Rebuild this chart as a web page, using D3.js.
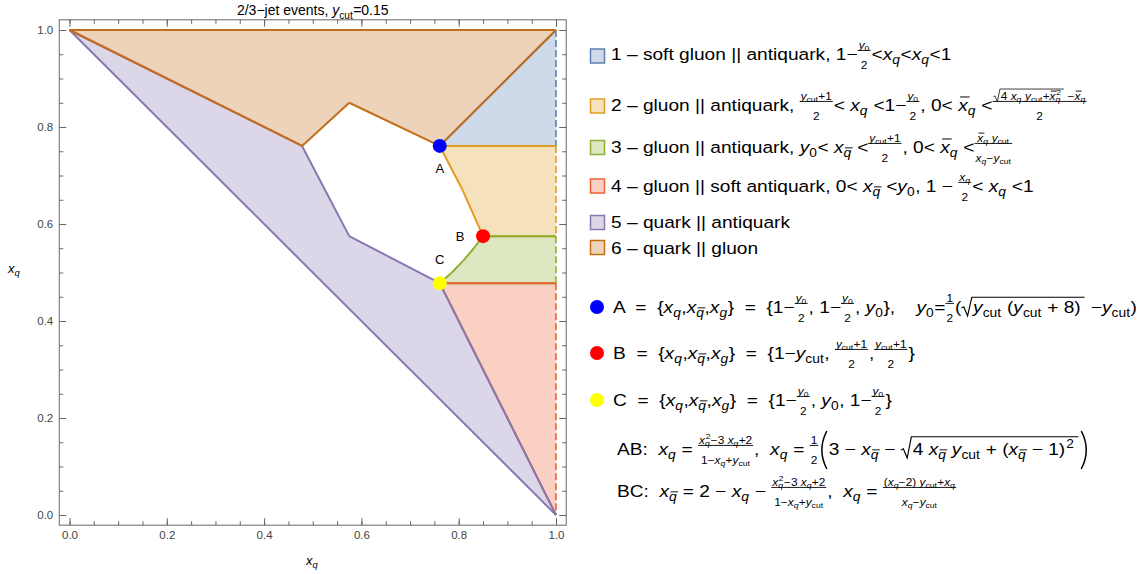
<!DOCTYPE html>
<html>
<head>
<meta charset="utf-8">
<script src="https://cdn.jsdelivr.net/npm/d3@7"></script>
<style>
  body { margin: 0; background: #fff; }
  svg text { font-family: "Liberation Sans", Arial, sans-serif; white-space: pre; }
</style>
</head>
<body>
<svg id="chart"></svg>
<script>

// ----------------------------- DATA -----------------------------//
const ycutValue = 0.15;
const regionIds = [1, 2, 3, 4, 5, 6];
const regionColors = ["#5e81b5", "#e19c24", "#8fb032", "#eb6235", "#8778b3", "#c56e1a"];

// region corners as [x_q, x_qbar]
const region1 = [[0.761, 0.761], [1, 1], [1, 0.761]];
const region2 = [[0.761, 0.761], [1, 0.761], [1, 0.575], [0.85, 0.575], [0.808, 0.67]];
const region3 = [[0.85, 0.575], [1, 0.575], [1, 0.478], [0.761, 0.478], [0.786, 0.5], [0.81, 0.525], [0.831, 0.55]];
const region4 = [[0.761, 0.478], [1, 0.478], [1, 0]];
const region5 = [[0, 1], [0.478, 0.761], [0.575, 0.575], [0.761, 0.478], [1, 0]];
const region6 = [[0, 1], [1, 1], [0.761, 0.761], [0.575, 0.85], [0.478, 0.761]];

const pointNames = ["A", "B", "C"];
const pointX = [0.761, 0.85, 0.761];
const pointY = [0.761, 0.575, 0.478];
const pointColors = ["#0000ff", "#ff0000", "#ffff00"];

const axisTicks = [0, 0.2, 0.4, 0.6, 0.8, 1.0];


// ------------------------- MATH TEXT -----------------------------//
// tiny layout helper: strings are upright, {i} italic, and
// sub/sup, bars, fractions, roots and big parens are nested
const I = s => ({i: s});
const Sb = (b, s) => ({base: b, sub: s});
const Sp = (b, p) => ({base: b, sup: p});
const SbSp = (b, s, p) => ({base: b, sub: s, sup: p});
const Bar = (c, h) => ({bar: c, h: h});
const Fr = (n, d) => ({num: n, den: d});
const Sq = (c, h) => ({sqrt: c, h: h});
const Pa = c => ({paren: c});

function txt(g, s, x, y, fs, it) {
  const t = g.append("text")
    .attr("x", x).attr("y", y)
    .attr("font-size", fs)
    .attr("xml:space", "preserve")
    .style("font-style", it ? "italic" : "normal")
    .attr("fill", "#000")
    .text(s);
  return t.node().getComputedTextLength();
}

function math(g, items, x, y, fs) {
  let cx = x;
  for (const it of [].concat(items)) cx += piece(g, it, cx, y, fs);
  return cx - x;
}

function piece(g, it, x, y, fs) {
  if (typeof it === "string") return txt(g, it, x, y, fs, false);
  if (it.i !== undefined) return txt(g, it.i, x, y, fs, true);
  if (it.base !== undefined) {
    const w = math(g, it.base, x, y, fs);
    let ws = 0, wp = 0;
    if (it.sub !== undefined) ws = math(g, it.sub, x + w, y + fs * 0.25, fs * 0.72);
    if (it.sup !== undefined) wp = math(g, it.sup, x + w + fs * 0.06, y - fs * 0.42, fs * 0.72);
    return w + Math.max(ws, wp + fs * 0.06) + fs * 0.03;
  }
  if (it.bar !== undefined) {
    const w = math(g, it.bar, x, y, fs);
    const h = y - fs * (it.h || 0.68);
    g.append("line")
      .attr("x1", x + fs * 0.1).attr("x2", x + w + fs * 0.1)
      .attr("y1", h).attr("y2", h)
      .attr("stroke", "#000").attr("stroke-width", Math.max(0.85, fs * 0.06));
    return w;
  }
  if (it.num !== undefined) {
    const f2 = fs * 0.62;
    const gn = g.append("g"), gd = g.append("g");
    const wn = math(gn, it.num, 0, 0, f2);
    const wd = math(gd, it.den, 0, 0, f2);
    const w = Math.max(wn, wd) + fs * 0.1;
    const bar = y - fs * 0.58;
    gn.attr("transform", `translate(${x + (w - wn) / 2},${bar - fs * 0.1})`);
    gd.attr("transform", `translate(${x + (w - wd) / 2},${y + fs * 0.52})`);
    g.append("line")
      .attr("x1", x).attr("x2", x + w)
      .attr("y1", bar).attr("y2", bar)
      .attr("stroke", "#000").attr("stroke-width", Math.max(0.7, fs * 0.05));
    return w + fs * 0.05;
  }
  if (it.sqrt !== undefined) {
    const x0 = x + fs * 0.62;
    const w = math(g, it.sqrt, x0, y, fs);
    const top = y - fs * (it.h || 0.95);
    g.append("path")
      .attr("d", `M${x},${y - fs * 0.3} L${x + fs * 0.13},${y - fs * 0.38} L${x + fs * 0.33},${y + fs * 0.18} L${x + fs * 0.55},${top} L${x0 + w + fs * 0.2},${top}`)
      .attr("fill", "none").attr("stroke", "#000").attr("stroke-width", Math.max(0.7, fs * 0.06));
    return w + fs * 0.87;
  }
  if (it.paren !== undefined) {
    const pw = fs * 0.4;
    const top = y - fs * 1.45, bot = y + fs * 0.85, mid = (top + bot) / 2;
    g.append("path")
      .attr("d", `M${x + pw},${top} Q${x - pw * 0.3},${mid} ${x + pw},${bot}`)
      .attr("fill", "none").attr("stroke", "#000").attr("stroke-width", 1.3);
    const w = math(g, it.paren, x + pw + fs * 0.1, y, fs);
    const xr = x + pw + fs * 0.2 + w;
    g.append("path")
      .attr("d", `M${xr},${top} Q${xr + pw * 1.3},${mid} ${xr},${bot}`)
      .attr("fill", "none").attr("stroke", "#000").attr("stroke-width", 1.3);
    return w + pw * 2 + fs * 0.3;
  }
  return 0;
}

const xq = Sb(I("x"), I("q"));
const xqb = Sb(I("x"), Bar(I("q"), 0.78));
const xg = Sb(I("x"), I("g"));
const yc = Sb(I("y"), "cut");
const y0 = Sb(I("y"), "0");
const Xq = Sb(Bar(I("x"), 0.85), I("q"));
const ycp1 = Fr([yc, "+1"], "2");
const y0h = Fr(y0, "2");
const quad = Fr([SbSp(I("x"), I("q"), "2"), "−3 ", xq, "+2"], ["1−", xq, "+", yc]);

const legendRows = [
  ["1 – soft gluon || antiquark, 1−", y0h, "<", xq, "<", xq, "<1"],
  ["2 – gluon || antiquark, ", ycp1, "< ", xq, " <1−", y0h, ", 0< ", Xq, " <",
    Fr([Sq(["4 ", xq, " ", yc, "+", SbSp(Bar(I("x"), 0.85), I("q"), "2")], 1.05), " −", Xq], "2")],
  ["3 – gluon || antiquark, ", y0, "< ", xqb, " <", ycp1, ", 0< ", Xq, " <", Fr([Xq, " ", yc], [xq, "−", yc])],
  ["4 – gluon || soft antiquark, 0< ", xqb, " <", y0, ", 1 − ", Fr(xq, "2"), "< ", xq, " <1"],
  ["5 – quark || antiquark"],
  ["6 – quark || gluon"]
];
const pointRows = [
  ["A  =  {", xq, ",", xqb, ",", xg, "}  =  {1−", y0h, ", 1−", y0h, ", ", y0, "},    ", y0, "=", Fr("1", "2"),
    "(", Sq([yc, " (", yc, " + 8)"]), " −", yc, ")"],
  ["B  =  {", xq, ",", xqb, ",", xg, "}  =  {1−", yc, ", ", ycp1, ",", ycp1, "}"],
  ["C  =  {", xq, ",", xqb, ",", xg, "}  =  {1−", y0h, ", ", y0, ", 1−", y0h, "}"]
];
const curveRows = [
  ["AB:  ", xq, " = ", quad, ",  ", xq, " = ", Fr("1", "2"),
    Pa(["3 − ", xqb, " − ", Sq(["4 ", xqb, " ", yc, " + (", xqb, " − 1", Sp(")", "2")], 1.1)])],
  ["BC:  ", xqb, " = 2 − ", xq, " − ", quad, ",  ", xq, " = ",
    Fr(["(", xq, "−2) ", yc, "+", xq], [xq, "−", yc])]
];


// ----------------------------- CHART -----------------------------//
class RegionChart {

  constructor(_config) {
    this.config = {
      parentElement: _config.parentElement,
      containerWidth: 1148,
      containerHeight: 574,
      plot: {left: 69.5, right: 556, top: 30, bottom: 515},
      pad: 0.021,
      legendFont: 16.5,
      legendStretch: 1.16
    };
    this.regions = [region1, region2, region3, region4, region5, region6];
    this.initVis();
  }

  initVis() {
    let vis = this;
    const p = vis.config.plot;

    vis.svg = d3.select(vis.config.parentElement)
      .attr("width", vis.config.containerWidth)
      .attr("height", vis.config.containerHeight);

    //----------------------------SCALES----------------------------//
    vis.xScale = d3.scaleLinear().domain([0, 1]).range([p.left, p.right]);
    vis.yScale = d3.scaleLinear().domain([0, 1]).range([p.bottom, p.top]);

    const fx0 = vis.xScale(-vis.config.pad), fx1 = vis.xScale(1 + vis.config.pad);
    const fy0 = vis.yScale(-vis.config.pad), fy1 = vis.yScale(1 + vis.config.pad);

    //----------------------------REGIONS---------------------------//
    const line = d3.line()
      .x(d => vis.xScale(d[0]))
      .y(d => vis.yScale(d[1]));

    const regionG = vis.svg.append("g");
    vis.regions.forEach((poly, i) => {
      regionG.append("path")
        .attr("d", line(poly) + "Z")
        .attr("fill", regionColors[i])
        .attr("fill-opacity", 0.3)
        .attr("stroke", "none");
    });
    vis.regions.forEach((poly, i) => {
      poly.forEach((pt, j) => {
        const nx = poly[(j + 1) % poly.length];
        const onEdge = pt[0] === 1 && nx[0] === 1;
        regionG.append("path")
          .attr("d", line([pt, nx]))
          .attr("fill", "none")
          .attr("stroke", regionColors[i])
          .attr("stroke-width", onEdge ? 1.6 : 2)
          .attr("stroke-dasharray", onEdge ? "7,3" : null)
          .attr("stroke-linejoin", "round");
      });
    });

    //-----------------------------AXES-----------------------------//
    const fmt = d3.format(".1f");
    const xs = vis.xScale, ys = vis.yScale;

    const addAxis = (axisFn, scale, transform, labels) => {
      vis.svg.append("g").attr("class", "axis").attr("transform", transform)
        .call(axisFn(scale).tickValues(axisTicks).tickSize(-7).tickPadding(6)
          .tickFormat(labels ? fmt : ""));
      vis.svg.append("g").attr("class", "axis").attr("transform", transform)
        .call(axisFn(scale).ticks(20).tickSize(-4).tickFormat(""));
    };
    addAxis(d3.axisBottom, xs, `translate(0,${fy0})`, true);
    addAxis(d3.axisLeft, ys, `translate(${fx0},0)`, true);
    addAxis(d3.axisTop, xs, `translate(0,${fy1})`, false);
    addAxis(d3.axisRight, ys, `translate(${fx1},0)`, false);

    vis.svg.selectAll(".axis .domain").remove();
    vis.svg.selectAll(".axis line").attr("stroke", "#666");
    vis.svg.selectAll(".axis text")
      .attr("font-size", 11.5)
      .attr("fill", "#444")
      .attr("font-family", "'Liberation Sans', Arial, sans-serif");

    vis.svg.append("rect")
      .attr("x", fx0).attr("y", fy1)
      .attr("width", fx1 - fx0).attr("height", fy0 - fy1)
      .attr("fill", "none").attr("stroke", "#666").attr("stroke-width", 1);

    // axis titles
    math(vis.svg.append("g"), [xq], 306, 565, 13);
    math(vis.svg.append("g"), [xq], 8, 273, 13);

    // title
    const tg = vis.svg.append("g");
    const tw = math(tg, ["2/3−jet events, ", yc, "=" + ycutValue], 0, 0, 14);
    tg.attr("transform", `translate(${(fx0 + fx1) / 2 - tw / 2},15)`);

    //----------------------------POINTS----------------------------//
    const labelOff = [[0, 27], [-23, 5], [0, -19]];
    pointNames.forEach((name, i) => {
      const cx = xs(pointX[i]), cy = ys(pointY[i]);
      vis.svg.append("circle")
        .attr("cx", cx).attr("cy", cy).attr("r", 7)
        .attr("fill", pointColors[i]);
      vis.svg.append("text")
        .attr("x", cx + labelOff[i][0]).attr("y", cy + labelOff[i][1])
        .attr("text-anchor", "middle")
        .attr("font-size", 13)
        .text(name);
    });

    vis.renderLegend();
  }

  renderLegend() {
    let vis = this;
    const fs = vis.config.legendFont;
    const k = vis.config.legendStretch;
    const lg = vis.svg.append("g");

    // every text line is laid out at the origin, then moved and widened
    const line = (row, x, y) => {
      const g = lg.append("g");
      math(g, row, 0, 0, fs);
      g.attr("transform", `translate(${x},${y}) scale(${k},1)`);
    };

    const rowBase = [60, 111, 153, 192, 228, 254];
    const rowBox = [56, 106, 147.5, 186, 222.5, 247.5];
    legendRows.forEach((row, i) => {
      lg.append("rect")
        .attr("x", 590.5).attr("y", rowBox[i] - 7)
        .attr("width", 14).attr("height", 14)
        .attr("fill", d3.interpolateRgb("#fff", regionColors[i])(0.3))
        .attr("stroke", regionColors[i]).attr("stroke-width", 1.5);
      line(row, 611, rowBase[i]);
    });

    const ptBase = [313, 359, 406];
    const ptDot = [307, 353, 400];
    pointRows.forEach((row, i) => {
      lg.append("circle")
        .attr("cx", 597).attr("cy", ptDot[i]).attr("r", 7)
        .attr("fill", pointColors[i]);
      line(row, 613, ptBase[i]);
    });

    const curveBase = [455, 497];
    curveRows.forEach((row, i) => line(row, 617, curveBase[i]));
  }
}

new RegionChart({parentElement: "#chart"});
</script>
</body>
</html>
